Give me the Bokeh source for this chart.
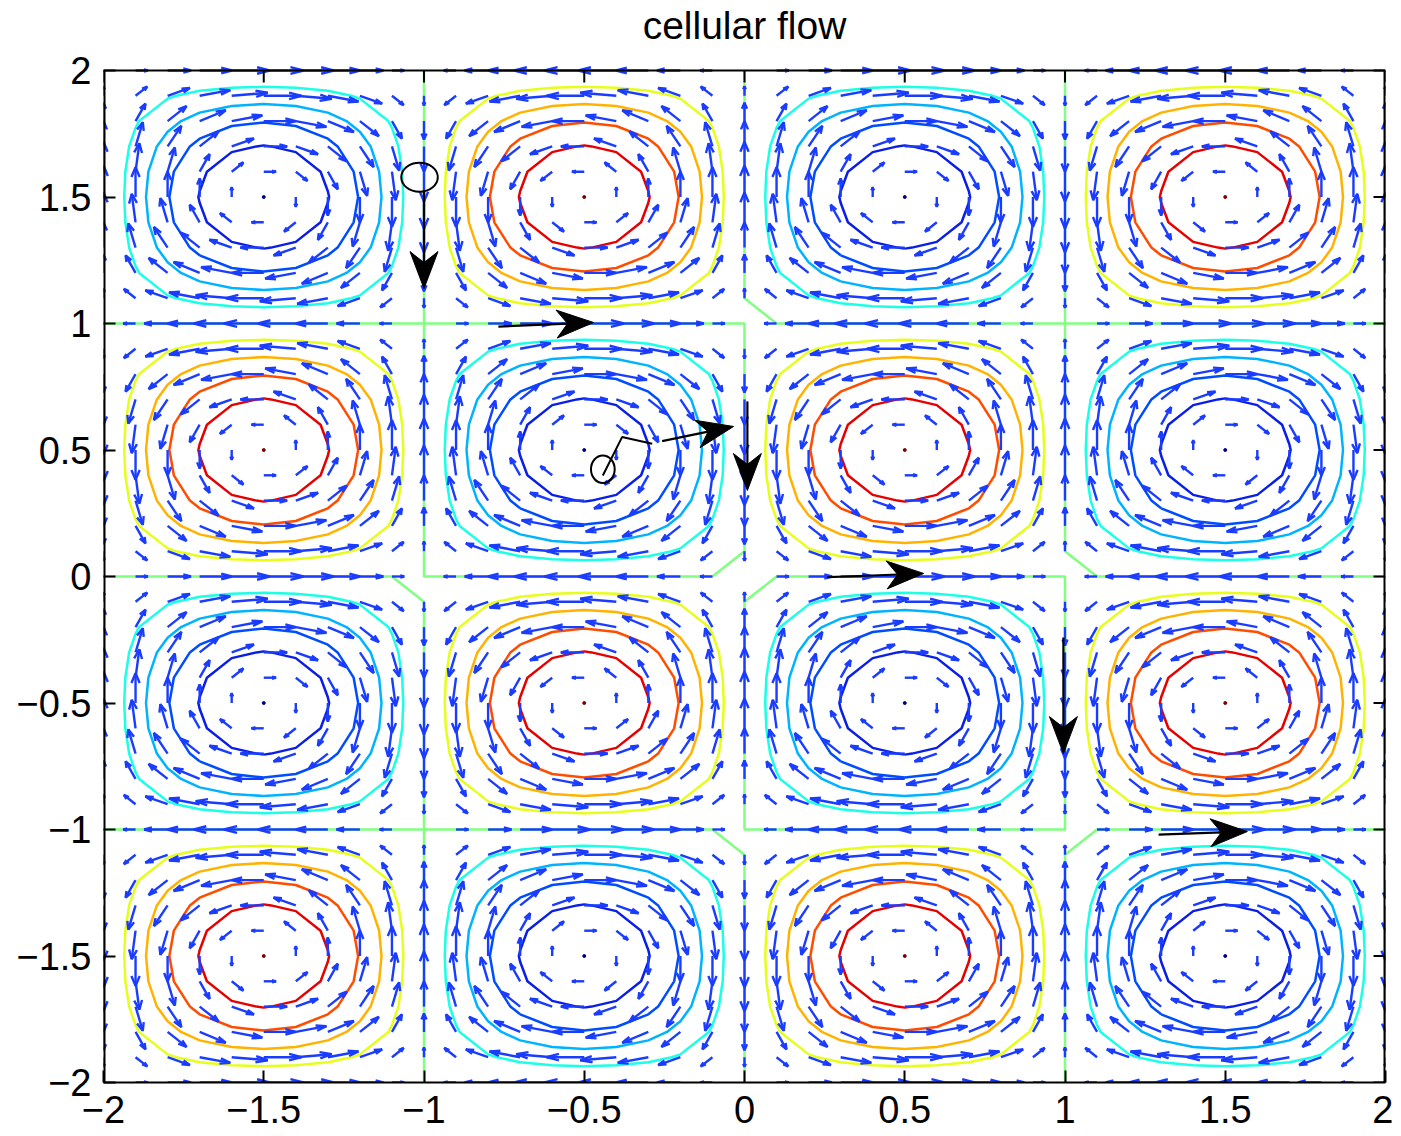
import numpy as np
import contourpy
from bokeh.plotting import figure
from bokeh.models import FixedTicker, CustomJSTickFormatter, Label
from bokeh.embed import file_html
from bokeh.resources import INLINE

# ---------------- data ----------------
TITLE = "cellular flow"
tick_values = [-2, -1.5, -1, -0.5, 0, 0.5, 1, 1.5, 2]
tick_labels = ["\u22122", "\u22121.5", "\u22121", "\u22120.5", "0", "0.5", "1", "1.5", "2"]
x_lim = (-2.0, 2.0)
y_lim = (-2.0, 2.0)

# sampling grid of the stream function psi = sin(pi x) sin(pi y)
grid_points = 41
grid_lo, grid_hi = -2.0, 2.0

# contour levels (nonzero) and their jet colours
contour_levels = [-0.8, -0.6, -0.4, -0.2, 0.2, 0.4, 0.6, 0.8]
contour_colors = ["#0a1ee8", "#004dff", "#00b3ff", "#1affe6",
                  "#e6ff1a", "#ffb300", "#ff4d00", "#e60000"]

# zero-level contour as drawn in the reference (grid-line artefacts)
zero_xs = [[-2, 0, 0, -0.1, -1, -1],
           [-2, -1.1, -1, -1],
           [-2, -0.1, 0, 0],
           [0, 0, 0.1, 2],
           [1, 1, 1.1, 2],
           [0, 0.1, 1, 1, 0, 0],
           [1, 1, 1.1, 2]]
zero_ys = [[1, 1, 0.1, 0, 0, 2],
           [0, 0, -0.1, -2],
           [-1, -1, -1.1, -2],
           [2, 1.1, 1, 1],
           [2, 0.1, 0, 0],
           [-0.1, 0, 0, -1, -1, -0.1],
           [-2, -1.1, -1, -1]]
zero_color = "#80ff80"

# black particle arrows (start -> tip)
arrow_x0 = [-1.0, -0.768, -0.257, 0.009, 0.258, 0.995, 1.292]
arrow_y0 = [1.526, 0.988, 0.535, 0.692, -0.003, -0.241, -1.020]
arrow_x1 = [-1.0, -0.471, -0.034, 0.009, 0.559, 0.995, 1.569]
arrow_y1 = [1.138, 1.004, 0.593, 0.340, 0.012, -0.700, -1.008]

# particle path segment and markers
path_x = [-0.442, -0.382, -0.288]
path_y = [0.399, 0.551, 0.525]
marker_x = [-1.014, -0.442]
marker_y = [1.578, 0.424]
marker_w = [0.114, 0.074]
marker_h = [0.115, 0.109]

# ---------------- layout / style ----------------
AX_W, AX_H = 1282, 1012      # axes box in px
TOP_PAD = 70                 # px above the axes box (title area, inside frame)
TITLE_GAP = 45               # px from box top to title centre
FONT = "Liberation Sans"
QUIVER_COLOR = "#1a3cff"
TICK_LEN = 12

sx = AX_W / (x_lim[1] - x_lim[0])
sy = AX_H / (y_lim[1] - y_lim[0])
y_top = y_lim[1] + TOP_PAD / sy

p = figure(width=103 + AX_W + 8, height=AX_H + TOP_PAD + 54,
           frame_width=AX_W, frame_height=AX_H + TOP_PAD,
           x_range=x_lim, y_range=(y_lim[0], y_top),
           output_backend="svg", toolbar_location=None,
           min_border_left=103, min_border_right=8,
           min_border_top=0, min_border_bottom=54,
           background_fill_color="white", border_fill_color="white")
p.grid.visible = False
p.outline_line_color = None

p.add_layout(Label(x=0.5 * (x_lim[0] + x_lim[1]), y=y_lim[1] + TITLE_GAP / sy,
                   text=TITLE, text_align="center", text_baseline="middle",
                   text_font=FONT, text_font_size="39px", text_color="black"))

fmt = CustomJSTickFormatter(args=dict(tvals=tick_values, tlabs=tick_labels), code="""
let best = 0;
for (let i = 0; i < tvals.length; i++) {
  if (Math.abs(tvals[i] - tick) < Math.abs(tvals[best] - tick)) best = i;
}
return tlabs[best];
""")

for ax in (p.xaxis[0], p.yaxis[0]):
    ax.ticker = FixedTicker(ticks=tick_values)
    ax.formatter = fmt
    ax.major_tick_in = TICK_LEN
    ax.major_tick_out = 0
    ax.minor_tick_line_color = None
    ax.axis_line_width = 2
    ax.major_tick_line_width = 2
    ax.axis_line_color = "black"
    ax.major_tick_line_color = "black"
    ax.major_label_text_font = FONT
    ax.major_label_text_font_size = "38px"
    ax.major_label_text_color = "black"
p.yaxis[0].axis_line_color = None
p.yaxis[0].major_label_standoff = 12
p.xaxis[0].major_label_standoff = 13

# ---------------- field ----------------
gx = np.linspace(grid_lo, grid_hi, grid_points)
X, Y = np.meshgrid(gx, gx)
PSI = np.sin(np.pi * X) * np.sin(np.pi * Y)
U = np.pi * np.sin(np.pi * X) * np.cos(np.pi * Y)
V = -np.pi * np.cos(np.pi * X) * np.sin(np.pi * Y)

# contours (nonzero levels)
gen = contourpy.contour_generator(X, Y, PSI)
cxs, cys, ccs = [], [], []
for lev, col in zip(contour_levels, contour_colors):
    for seg in gen.lines(lev):
        cxs.append([float(t) for t in seg[:, 0]])
        cys.append([float(t) for t in seg[:, 1]])
        ccs.append(col)
p.multi_line(cxs, cys, line_color=ccs, line_width=2.5)

# zero contour
p.multi_line(zero_xs, zero_ys, line_color=zero_color, line_width=2.5)

# degenerate extreme contours (cell centres)
pk = np.abs(PSI) > 0.9999
p.scatter([float(t) for t in X[pk]], [float(t) for t in Y[pk]], size=3,
          color=["#800000" if v > 0 else "#000080" for v in PSI[pk]])

# quiver (MATLAB-style autoscale)
n = grid_points
delx = (grid_hi - grid_lo) / n
dely = (grid_hi - grid_lo) / n
dl = delx ** 2 + dely ** 2
mag = np.sqrt((U ** 2 + V ** 2) / dl)
scale = 0.9 / mag.max()
uu = (U * scale).ravel()
vv = (V * scale).ravel()
xx = X.ravel()
yy = Y.ravel()
alpha, beta, eps = 0.33, 0.33, 1e-16
qxs, qys = [], []
for x0, y0, u, v in zip(xx, yy, uu, vv):
    x0, y0, u, v = float(x0), float(y0), float(u), float(v)
    qxs.append([x0, x0 + u])
    qys.append([y0, y0 + v])
    qxs.append([x0 + u - alpha * (u + beta * (v + eps)), x0 + u,
                x0 + u - alpha * (u - beta * (v + eps))])
    qys.append([y0 + v - alpha * (v - beta * (u + eps)), y0 + v,
                y0 + v - alpha * (v + beta * (u + eps))])
p.multi_line(qxs, qys, line_color=QUIVER_COLOR, line_width=2.4)

# ---------------- black arrows ----------------
HEAD_L, HEAD_W, NOTCH = 37.0, 14.0, 11.0
hx, hy, sxs, sys_ = [], [], [], []
for x0, y0, x1, y1 in zip(arrow_x0, arrow_y0, arrow_x1, arrow_y1):
    px0, py0, px1, py1 = x0 * sx, y0 * sy, x1 * sx, y1 * sy
    dx, dy = px1 - px0, py1 - py0
    L = float(np.hypot(dx, dy))
    ux, uy = dx / L, dy / L
    nx, ny = -uy, ux
    bx, by = px1 - HEAD_L * ux, py1 - HEAD_L * uy
    mx, my = px1 - (HEAD_L - NOTCH) * ux, py1 - (HEAD_L - NOTCH) * uy
    pts = [(px1, py1), (bx + HEAD_W * nx, by + HEAD_W * ny), (mx, my),
           (bx - HEAD_W * nx, by - HEAD_W * ny)]
    hx.append([q[0] / sx for q in pts])
    hy.append([q[1] / sy for q in pts])
    sxs.append([x0, mx / sx])
    sys_.append([y0, my / sy])

p.line(path_x, path_y, line_color="black", line_width=2)
p.multi_line(sxs, sys_, line_color="black", line_width=2.2)
p.patches(hx, hy, fill_color="black", line_color="black", line_width=1)
p.ellipse(marker_x, marker_y, width=marker_w, height=marker_h,
          fill_color=None, line_color="black", line_width=2)

# ---------------- axes box and top/right ticks ----------------
x0b, x1b = x_lim
y0b, y1b = y_lim
p.multi_line([[x0b, x0b], [x1b, x1b]], [[y0b, y1b], [y0b, y1b]],
             line_color="black", line_width=4)
p.line([x0b, x1b], [y1b, y1b], line_color="black", line_width=2)
tv = [float(t) for t in tick_values]
p.segment(x0=tv, y0=[y1b] * len(tv), x1=tv, y1=[y1b - TICK_LEN / sy] * len(tv),
          line_color="black", line_width=2)
p.segment(x0=[x1b] * len(tv), y0=tv, x1=[x1b - TICK_LEN / sx] * len(tv), y1=tv,
          line_color="black", line_width=2)

open("out.html", "w").write(file_html(p, INLINE))
